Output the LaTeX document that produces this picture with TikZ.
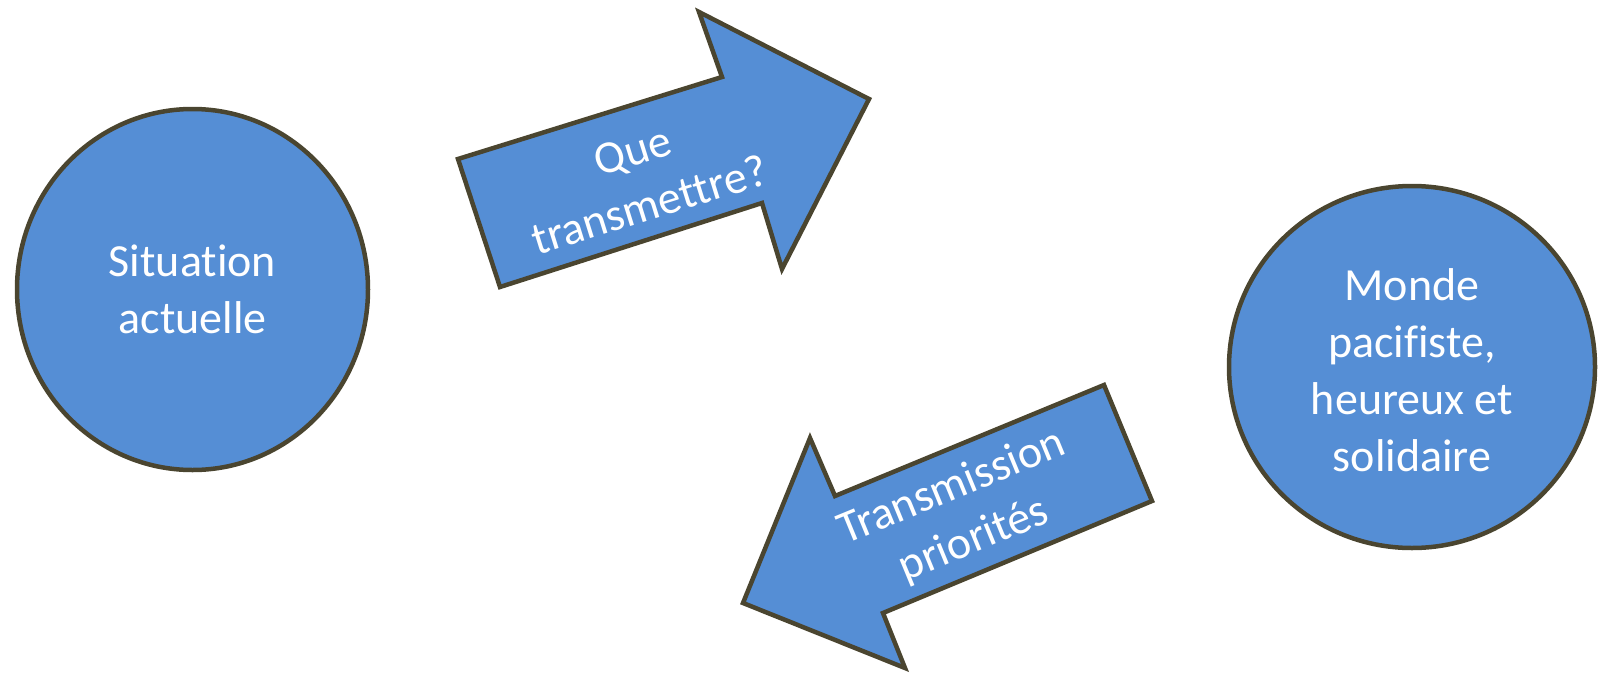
\documentclass[tikz,border=0pt]{standalone}
\usepackage{fontspec}
\setmainfont[Ligatures={NoCommon}]{Carlito}
\usetikzlibrary{shapes.geometric}
\definecolor{fillblue}{HTML}{558ED5}
\definecolor{edgeolive}{HTML}{4A4530}
\begin{document}
\begin{tikzpicture}[x=1pt,y=-1pt,
  blob/.style={ellipse,draw=edgeolive,fill=fillblue,line width=4.5pt,inner sep=0pt},
  shapearrow/.style={draw=edgeolive,fill=fillblue,line width=4.5pt,line join=miter},
  lbl/.style={text=white,align=center,font=\fontsize{46}{57}\selectfont,inner sep=0pt}]
\useasboundingbox (0,0) rectangle (1600,672);
\node[blob,minimum width=351pt,minimum height=361pt] (sit) at (192.5,289.5) {};
\node[lbl] (sittxt) at (192.5,289.5) {Situation\\actuelle};
\node[blob,minimum width=366pt,minimum height=362pt] (monde) at (1412,367) {};
\node[lbl] (mondetxt) at (1412,370) {Monde\\pacifiste,\\heureux et\\solidaire};
\draw[shapearrow] (500,287) -- (458,159) -- (722,77) -- (699,12) -- (869,99) -- (782,269) -- (762,203) -- cycle;
\node[lbl,rotate=17.3] (quetxt) at (641,178) {Que\\transmettre?};
\draw[shapearrow] (1104,385) -- (1152,501) -- (883,613) -- (905,668) -- (743,603) -- (810,438) -- (835,496) -- cycle;
\node[lbl,rotate=22.4] (transtxt) at (963,514) {Transmission\\priorités};
\end{tikzpicture}
\end{document}
